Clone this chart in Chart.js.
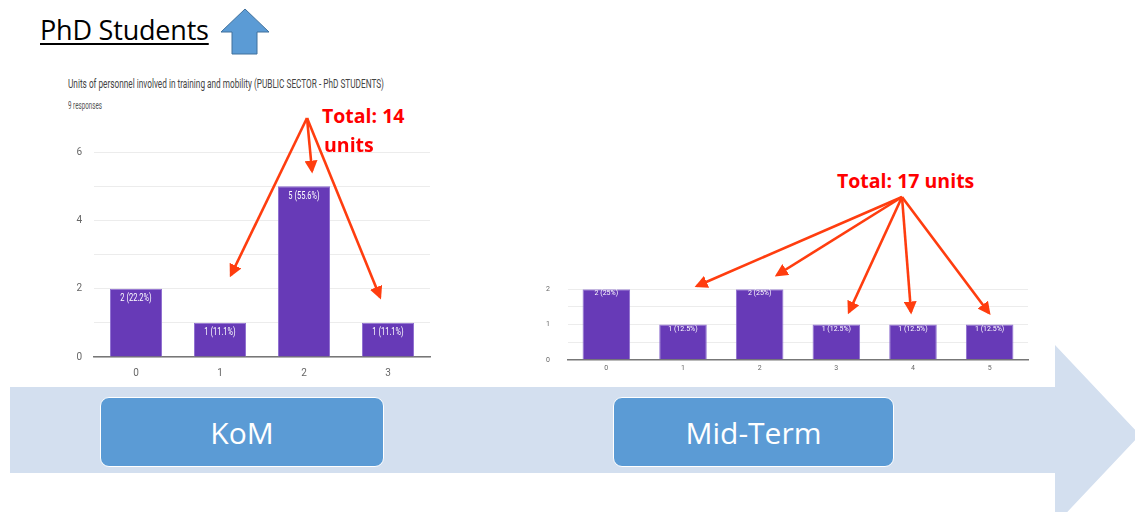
<!DOCTYPE html>
<html>
<head>
<meta charset="utf-8">
<script src="https://cdn.jsdelivr.net/npm/chart.js@4.4.0/dist/chart.umd.min.js"></script>
<style>
  html, body { margin: 0; padding: 0; background: #fff; }
  #slide { position: relative; width: 1135px; height: 512px; overflow: hidden; font-family: "Open Sans", sans-serif; }
  .abs { position: absolute; }
  #heading { left: 40px; top: 11px; font-size: 27px; color: #000; text-decoration: underline; text-underline-offset: 3px; text-decoration-thickness: 1.5px; letter-spacing: -0.2px; }
  .narrow { white-space: nowrap; transform-origin: 0 0; font-family: Roboto, sans-serif; }
  #ctitle { left: 68px; top: 76px; font-size: 13px; color: #444; }
  #cresp { left: 68px; top: 100px; font-size: 10px; color: #555; }
  .stage { position: absolute; left: 100px; top: 397px; width: 284px; height: 70px; background: #5b9bd5; border: 1.5px solid #fff; border-radius: 9px; box-sizing: border-box;
           color: #fff; font-size: 30px; display: flex; align-items: center; justify-content: center; font-family: "Open Sans", sans-serif; }
  .red { color: #ff0000; font-weight: bold; font-family: "Open Sans", sans-serif; white-space: nowrap; }
</style>
</head>
<body>
<div id="slide">
  <svg class="abs" style="left:0;top:0" width="1135" height="512">
    <polygon points="10,387 1055,387 1055,345 1140,435 1055,525 1055,473 10,473" fill="#d3dfef"/>
    <polygon points="245,9 269,32 257,32 257,54 232,54 232,32 221,32" fill="#5b9bd5" stroke="#41719c" stroke-width="1"/>
  </svg>

  <div id="heading" class="abs">PhD Students</div>
  <div id="ctitle" class="abs narrow" data-w="316">Units of personnel involved in training and mobility (PUBLIC SECTOR - PhD STUDENTS)</div>
  <div id="cresp" class="abs narrow" data-w="34">9 responses</div>

  <div class="abs" style="left:70px;top:134px;width:370px;height:252px"><canvas id="komChart"></canvas></div>
  <div class="abs" style="left:540px;top:267px;width:495px;height:115px"><canvas id="midChart"></canvas></div>

  <div class="stage">KoM</div>
  <div class="stage" style="left:613px;width:281px">Mid-Term</div>

  <div class="abs red" style="left:322px;top:102px;font-size:19.5px">Total: 14</div>
  <div class="abs red" style="left:324px;top:131px;font-size:19.5px">units</div>
  <div class="abs red" style="left:837px;top:167px;font-size:19.5px">Total: 17 units</div>

  <svg class="abs" style="left:0;top:0;pointer-events:none" width="1135" height="512">
    <defs>
      <marker id="ah" markerWidth="5" markerHeight="5" refX="4" refY="2.5" orient="auto" markerUnits="strokeWidth">
        <path d="M0,0 L5,2.5 L0,5 z" fill="#ff3d0f"/>
      </marker>
    </defs>
    <g stroke="#ff3d0f" stroke-width="2.6" fill="none" marker-end="url(#ah)">
      <line x1="307" y1="118" x2="231" y2="275"/>
      <line x1="307" y1="118" x2="312" y2="171"/>
      <line x1="307" y1="118" x2="380" y2="297"/>
      <line x1="902" y1="197" x2="697" y2="286"/>
      <line x1="902" y1="197" x2="777" y2="275"/>
      <line x1="902" y1="197" x2="849" y2="312"/>
      <line x1="902" y1="197" x2="911" y2="312"/>
      <line x1="902" y1="197" x2="989" y2="313"/>
    </g>
  </svg>
</div>

<script>
// KoM survey (9 responses)
const komCategories = ['0', '1', '2', '3'];
const komCounts = [2, 1, 5, 1];
const komTicks = [0, 2, 4, 6];

// Mid-Term survey (8 responses)
const midCategories = ['0', '1', '2', '3', '4', '5'];
const midCounts = [2, 1, 2, 1, 1, 1];
const midTicks = [0, 1, 2];

const barColor = '#673ab7';

function pctLabels(counts) {
    const total = counts.reduce((a, b) => a + b, 0);
    return counts.map(v => {
        const p = Math.round(v / total * 1000) / 10;
        return v + ' (' + p + '%)';
    });
}

const barLabels = {
    id: 'barLabels',
    afterDatasetsDraw(chart, args, opts) {
        const ctx = chart.ctx;
        const labels = opts.labels || [];
        chart.getDatasetMeta(0).data.forEach((bar, i) => {
            ctx.save();
            ctx.fillStyle = '#fff';
            ctx.font = opts.size + 'px Roboto, sans-serif';
            ctx.textAlign = 'center';
            ctx.textBaseline = 'top';
            ctx.translate(bar.x, bar.y + opts.offset);
            ctx.scale(opts.squeeze, 1);
            ctx.fillText(labels[i], 0, 0);
            ctx.restore();
        });
    }
};

function makeChart(id, categories, counts, ticks, cfg) {
    const ctx = document.getElementById(id)?.getContext('2d');
    if (!ctx) return;
    new Chart(ctx, {
        type: 'bar',
        data: {
            labels: categories,
            datasets: [{
                data: counts,
                backgroundColor: barColor,
                borderColor: '#8f6fd0',
                borderWidth: 1,
                categoryPercentage: 1,
                barPercentage: 0.62
            }]
        },
        options: {
            responsive: true,
            maintainAspectRatio: false,
            animation: false,
            layout: { padding: { top: cfg.top, right: cfg.right, bottom: 0, left: 0 } },
            plugins: {
                legend: { display: false },
                tooltip: { enabled: false },
                barLabels: { labels: pctLabels(counts), size: cfg.labelSize, offset: cfg.labelOffset, squeeze: cfg.squeeze }
            },
            scales: {
                x: {
                    grid: { display: false, drawTicks: false },
                    border: { color: '#777', width: 1.5 },
                    ticks: { color: '#666', font: { size: cfg.tickSize, family: 'Roboto' }, padding: cfg.xPad },
                    afterFit: s => { s.height = cfg.xHeight; }
                },
                y: {
                    min: 0,
                    max: ticks[ticks.length - 1],
                    border: { display: false },
                    grid: { color: '#ececec', lineWidth: 1, drawTicks: false },
                    ticks: {
                        stepSize: cfg.minorStep,
                        color: '#666',
                        padding: cfg.yPad,
                        font: { size: cfg.tickSize, family: 'Roboto' },
                        callback: v => ticks.includes(v) ? String(v) : ''
                    },
                    afterFit: s => { s.width = cfg.yWidth; }
                }
            }
        },
        plugins: [barLabels]
    });
}

function squeezeText() {
    document.querySelectorAll('.narrow').forEach(el => {
        const w = el.getBoundingClientRect().width;
        el.style.transform = 'scaleX(' + (el.dataset.w / w) + ')';
    });
}

document.addEventListener('DOMContentLoaded', () => {
    squeezeText();
    makeChart('komChart', komCategories, komCounts, komTicks, {
        top: 7, right: 10, xHeight: 29, yWidth: 24, minorStep: 1,
        tickSize: 10, xPad: 10, yPad: 12, labelSize: 10, labelOffset: 5, squeeze: 0.75
    });
    makeChart('midChart', midCategories, midCounts, midTicks, {
        top: 9, right: 7, xHeight: 21, yWidth: 28, minorStep: 0.5,
        tickSize: 7, xPad: 4, yPad: 18, labelSize: 7, labelOffset: 1, squeeze: 1
    });
});
</script>
</body>
</html>
